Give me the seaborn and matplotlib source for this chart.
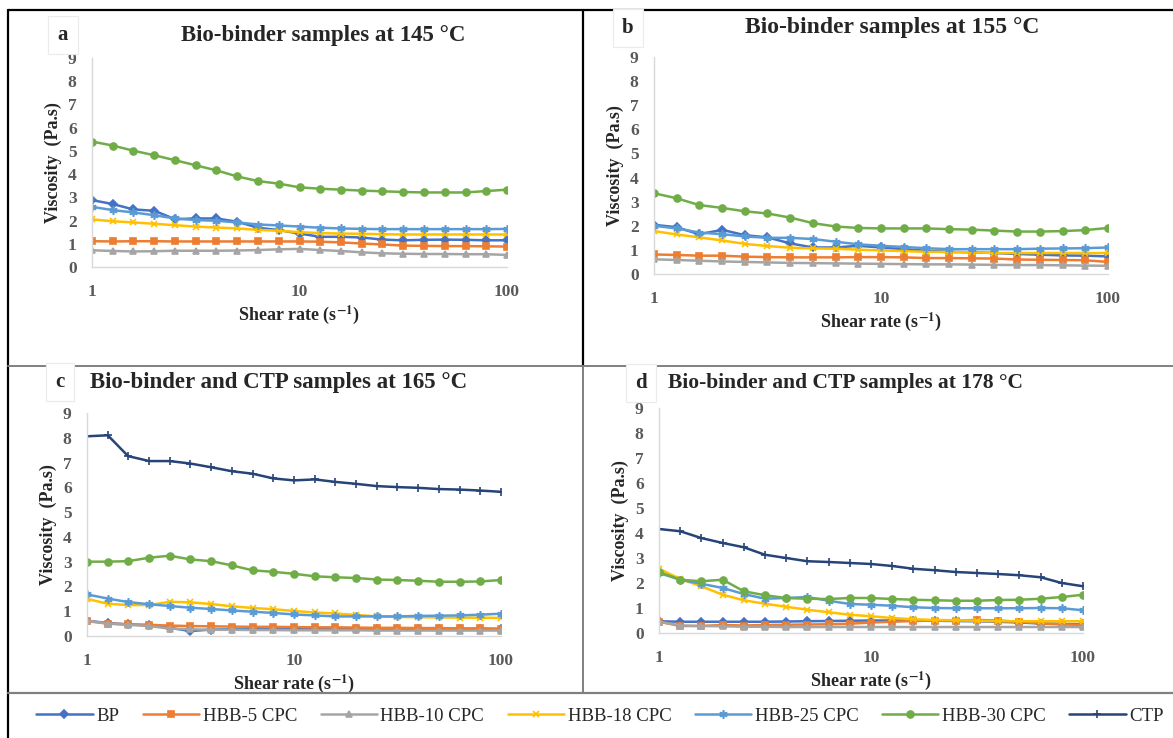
import matplotlib
matplotlib.use("Agg")
import matplotlib.pyplot as plt
import seaborn as sns
from matplotlib.lines import Line2D

sns.set_theme(style="white")
plt.rcParams['font.family'] = ['Liberation Serif', 'DejaVu Serif']
plt.rcParams['mathtext.fontset'] = 'stix'

W, H = 1173, 738

# shear rate points (s-1)
shear = [1.0, 1.26, 1.58, 2.0, 2.51, 3.16, 3.98, 5.01, 6.31, 7.94, 10.0,
         12.6, 15.8, 20.0, 25.1, 31.6, 39.8, 50.1, 63.1, 79.4, 100.0]

names = ["BP", "HBB-5 CPC", "HBB-10 CPC", "HBB-18 CPC", "HBB-25 CPC", "HBB-30 CPC", "CTP"]
colors = ["#4472C4", "#ED7D31", "#A5A5A5", "#FFC000", "#5B9BD5", "#70AD47", "#264478"]
markers = ["D", "s", "^", "x", (6, 2, 0), "o", "+"]
msizes = [4, 4.5, 4.5, 5, 6, 5, 6]

# a - 145 C
a_bp = [2.88, 2.71, 2.48, 2.42, 2.06, 2.09, 2.09, 1.95, 1.69, 1.59, 1.44, 1.30, 1.30, 1.27, 1.18, 1.15, 1.17, 1.18, 1.17, 1.15, 1.15]
a_hbb5 = [1.11, 1.10, 1.11, 1.11, 1.10, 1.10, 1.10, 1.10, 1.10, 1.10, 1.10, 1.09, 1.06, 1.01, 0.97, 0.92, 0.91, 0.90, 0.90, 0.89, 0.88]
a_hbb10 = [0.72, 0.69, 0.67, 0.68, 0.70, 0.70, 0.70, 0.71, 0.73, 0.76, 0.78, 0.73, 0.69, 0.63, 0.59, 0.57, 0.56, 0.56, 0.55, 0.55, 0.52]
a_hbb18 = [2.05, 1.97, 1.92, 1.86, 1.80, 1.74, 1.70, 1.66, 1.60, 1.56, 1.50, 1.46, 1.44, 1.43, 1.41, 1.40, 1.40, 1.40, 1.40, 1.40, 1.40]
a_hbb25 = [2.59, 2.45, 2.35, 2.23, 2.09, 2.02, 1.99, 1.92, 1.83, 1.79, 1.74, 1.69, 1.66, 1.64, 1.63, 1.63, 1.63, 1.63, 1.63, 1.63, 1.64]
a_hbb30 = [5.40, 5.23, 5.01, 4.81, 4.60, 4.38, 4.16, 3.90, 3.70, 3.59, 3.43, 3.37, 3.33, 3.29, 3.26, 3.23, 3.21, 3.21, 3.21, 3.27, 3.33]

# b - 155 C
b_bp = [2.04, 1.94, 1.65, 1.83, 1.61, 1.52, 1.27, 1.10, 1.10, 1.17, 1.10, 1.03, 0.96, 0.92, 0.90, 0.87, 0.83, 0.80, 0.77, 0.76, 0.73]
b_hbb5 = [0.81, 0.79, 0.76, 0.76, 0.72, 0.70, 0.69, 0.69, 0.69, 0.70, 0.70, 0.69, 0.66, 0.66, 0.65, 0.64, 0.60, 0.59, 0.58, 0.57, 0.50]
b_hbb10 = [0.61, 0.58, 0.55, 0.52, 0.50, 0.48, 0.46, 0.45, 0.44, 0.43, 0.42, 0.41, 0.40, 0.40, 0.39, 0.38, 0.37, 0.37, 0.36, 0.35, 0.34]
b_hbb18 = [1.78, 1.64, 1.52, 1.39, 1.25, 1.16, 1.09, 1.06, 1.05, 1.01, 0.98, 0.95, 0.92, 0.91, 0.90, 0.87, 0.87, 0.87, 0.87, 0.87, 0.87]
b_hbb25 = [2.00, 1.89, 1.72, 1.65, 1.56, 1.50, 1.50, 1.45, 1.34, 1.23, 1.17, 1.12, 1.07, 1.03, 1.03, 1.03, 1.03, 1.05, 1.06, 1.07, 1.10]
b_hbb30 = [3.35, 3.14, 2.86, 2.74, 2.60, 2.51, 2.34, 2.11, 1.97, 1.91, 1.89, 1.89, 1.89, 1.86, 1.84, 1.80, 1.76, 1.76, 1.78, 1.82, 1.91]

# c - 165 C
c_bp = [0.62, 0.52, 0.47, 0.43, 0.33, 0.20, 0.26, 0.27, 0.27, 0.27, 0.27, 0.27, 0.27, 0.27, 0.27, 0.27, 0.27, 0.27, 0.27, 0.27, 0.27]
c_hbb5 = [0.60, 0.50, 0.47, 0.45, 0.42, 0.40, 0.39, 0.38, 0.37, 0.37, 0.36, 0.35, 0.35, 0.34, 0.33, 0.33, 0.32, 0.32, 0.31, 0.31, 0.30]
c_hbb10 = [0.62, 0.50, 0.45, 0.40, 0.30, 0.27, 0.25, 0.25, 0.24, 0.24, 0.23, 0.23, 0.23, 0.23, 0.22, 0.22, 0.22, 0.22, 0.22, 0.22, 0.22]
c_hbb18 = [1.50, 1.30, 1.25, 1.25, 1.38, 1.36, 1.29, 1.20, 1.13, 1.08, 1.01, 0.95, 0.91, 0.85, 0.79, 0.77, 0.76, 0.75, 0.74, 0.74, 0.73]
c_hbb25 = [1.68, 1.51, 1.37, 1.28, 1.21, 1.14, 1.09, 1.03, 0.98, 0.93, 0.87, 0.83, 0.79, 0.79, 0.79, 0.79, 0.81, 0.82, 0.83, 0.86, 0.90]
c_hbb30 = [3.00, 3.00, 3.02, 3.16, 3.24, 3.09, 3.02, 2.85, 2.65, 2.59, 2.51, 2.41, 2.37, 2.34, 2.28, 2.26, 2.23, 2.19, 2.19, 2.20, 2.26]
c_ctp = [8.06, 8.10, 7.26, 7.06, 7.06, 6.96, 6.81, 6.65, 6.55, 6.36, 6.28, 6.32, 6.22, 6.14, 6.05, 6.01, 5.98, 5.93, 5.91, 5.87, 5.82]

# d - 178 C
d_bp = [0.47, 0.45, 0.45, 0.45, 0.45, 0.45, 0.46, 0.47, 0.48, 0.49, 0.50, 0.50, 0.50, 0.49, 0.48, 0.47, 0.45, 0.42, 0.38, 0.36, 0.35]
d_hbb5 = [0.45, 0.28, 0.28, 0.32, 0.30, 0.32, 0.33, 0.34, 0.35, 0.37, 0.42, 0.45, 0.48, 0.50, 0.50, 0.52, 0.50, 0.45, 0.38, 0.35, 0.32]
d_hbb10 = [0.45, 0.30, 0.28, 0.27, 0.25, 0.25, 0.24, 0.24, 0.24, 0.24, 0.24, 0.24, 0.24, 0.24, 0.24, 0.24, 0.24, 0.24, 0.24, 0.24, 0.24]
d_hbb18 = [2.57, 2.16, 1.87, 1.53, 1.31, 1.17, 1.05, 0.93, 0.83, 0.73, 0.67, 0.60, 0.55, 0.52, 0.51, 0.49, 0.47, 0.47, 0.47, 0.47, 0.47]
d_hbb25 = [2.40, 2.13, 1.97, 1.80, 1.56, 1.37, 1.40, 1.44, 1.29, 1.16, 1.13, 1.09, 1.03, 1.00, 0.99, 0.99, 0.99, 0.99, 1.00, 0.99, 0.91]
d_hbb30 = [2.44, 2.13, 2.07, 2.13, 1.67, 1.51, 1.40, 1.37, 1.36, 1.40, 1.40, 1.36, 1.33, 1.31, 1.29, 1.29, 1.32, 1.33, 1.37, 1.44, 1.53]
d_ctp = [4.16, 4.07, 3.80, 3.60, 3.43, 3.13, 3.00, 2.87, 2.84, 2.80, 2.76, 2.68, 2.57, 2.51, 2.44, 2.40, 2.36, 2.31, 2.23, 2.00, 1.87]


def px(x, y):
    return x / W, 1 - y / H


fig = plt.figure(figsize=(W / 100, H / 100), dpi=100)

# panel: (left, top, right, bottom) in px, letter, letter pos, title, title pos, ha, size, series
panels = [
    ((92, 58, 507, 267), "a", (63, 35), "Bio-binder samples at 145 °C", (323, 35), "center", 16.5,
     [a_bp, a_hbb5, a_hbb10, a_hbb18, a_hbb25, a_hbb30, None]),
    ((654, 57, 1108, 274), "b", (628, 28), "Bio-binder samples at 155 °C", (892, 28), "center", 17,
     [b_bp, b_hbb5, b_hbb10, b_hbb18, b_hbb25, b_hbb30, None]),
    ((87, 413, 501, 636), "c", (60, 382), "Bio-binder and CTP samples at 165 °C", (90, 382), "left", 16.5,
     [c_bp, c_hbb5, c_hbb10, c_hbb18, c_hbb25, c_hbb30, c_ctp]),
    ((659, 408, 1083, 633), "d", (641, 383), "Bio-binder and CTP samples at 178 °C", (668, 383), "left", 15.5,
     [d_bp, d_hbb5, d_hbb10, d_hbb18, d_hbb25, d_hbb30, d_ctp]),
]

handles = None
for (l, t, r, b), letter, lpos, title, tpos, ha, tsize, series in panels:
    x0, y0 = px(l, b)
    x1, y1 = px(r, t)
    ax = fig.add_axes([x0, y0, x1 - x0, y1 - y0])
    for vals, name, c, m, ms in zip(series, names, colors, markers, msizes):
        if vals is None:
            continue
        sns.lineplot(x=shear, y=vals, ax=ax, color=c, marker=m, markersize=ms,
                     markeredgecolor=c, markeredgewidth=1.2, linewidth=1.8, label=name)
    ax.set_xscale("log")
    ax.set_xlim(1, 100)
    ax.set_ylim(0, 9)
    ax.set_yticks(range(10))
    ax.set_xticks([1, 10, 100])
    ax.set_xticklabels(["1", "10", "100"])
    ax.minorticks_off()
    ax.tick_params(axis="both", length=0, labelsize=12.5, labelcolor="#595959")
    ax.tick_params(axis="y", pad=11)
    ax.tick_params(axis="x", pad=12)
    for lab in ax.get_xticklabels() + ax.get_yticklabels():
        lab.set_fontweight("bold")
    for s in ["top", "right"]:
        ax.spines[s].set_visible(False)
    for s in ["left", "bottom"]:
        ax.spines[s].set_color("#D9D9D9")
        ax.spines[s].set_linewidth(1)
    ax.set_xlabel("Shear rate (s$^{\\mathbf{-1}}$)", fontsize=13, fontweight="bold", labelpad=3)
    ax.set_ylabel("Viscosity  (Pa.s)", fontsize=13, fontweight="bold", labelpad=4)
    ax.get_legend().remove()
    if letter == "c":
        handles, labels = ax.get_legend_handles_labels()

    fig.text(*px(*lpos), letter, fontsize=15, fontweight="bold", ha="center", va="center",
             bbox=dict(boxstyle="square,pad=0.45", facecolor="white", edgecolor="#EBEBEB", linewidth=0.8))
    fig.text(*px(*tpos), title, fontsize=tsize, fontweight="bold", ha=ha, va="center")

fig.legend(handles, labels, loc="center", bbox_to_anchor=px(600, 716), ncol=7, frameon=False,
           fontsize=13.5, handlelength=3.0, columnspacing=1.25, handletextpad=0.2)

# table borders
def hline(y, x0, x1, color, lw):
    fig.add_artist(Line2D([x0 / W, x1 / W], [1 - y / H, 1 - y / H], color=color, linewidth=lw))


def vline(x, y0, y1, color, lw):
    fig.add_artist(Line2D([x / W, x / W], [1 - y0 / H, 1 - y1 / H], color=color, linewidth=lw))


hline(10, 8, W, "black", 1.6)
vline(8, 10, H, "black", 1.6)
vline(583, 10, 366, "black", 1.6)
vline(583, 366, 693, "#808080", 1.4)
hline(366, 8, W, "#808080", 1.4)
hline(693, 8, W, "#808080", 1.6)

fig.savefig("out.png", dpi=100)
